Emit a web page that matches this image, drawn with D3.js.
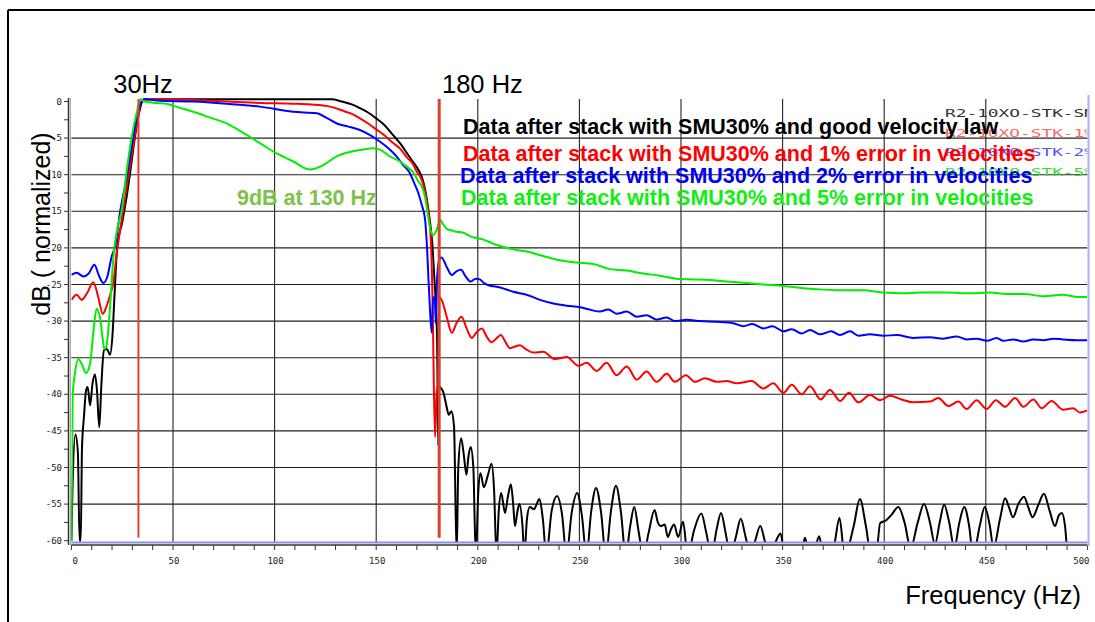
<!DOCTYPE html>
<html>
<head>
<meta charset="utf-8">
<script src="https://cdn.jsdelivr.net/npm/d3@7"></script>
<style>
  body { margin: 0; background: #fff; }
  svg { display: block; }
</style>
</head>
<body>
<script>
// frequency (Hz), amplitude (dB normalized)
var blackPts = [[0,-60],[0.6,-52],[2,-45.5],[3.2,-48],[4,-60],[4.6,-60],[5.2,-47.5],[6.2,-43],[7.2,-39.5],[8,-39],[9.2,-41.5],[10.4,-38.5],[11.6,-37.3],[12.6,-39.5],[13.7,-44.5],[14.7,-39],[16,-34],[17.5,-33.8],[19,-34.6],[20.2,-32],[21.3,-26],[22.5,-20],[25,-16.5],[27.2,-13],[29.5,-8.5],[31.3,-4.8],[33,-2],[34.6,-0.2],[36,0.3],[60,0.3],[100,0.3],[128,0.3],[133,0],[138,-0.4],[142,-0.9],[146,-1.5],[150,-2.3],[154,-3.2],[158,-4.5],[162,-5.8],[165,-7],[168,-8.2],[170,-9],[172,-10],[173.5,-11.3],[175,-13.5],[176.5,-16.5],[177.5,-19],[178.5,-23.5],[179.3,-27.5],[180,-33],[180.5,-47],[181,-39],[183,-39.7],[184.5,-41.5],[185.7,-42.8],[187,-42.3],[188.3,-44.4],[189.6,-62],[190.4,-50],[191.8,-46],[193,-48],[194.4,-51],[195.4,-48.5],[196.5,-47.2],[197.8,-50],[199,-62],[200.3,-53],[201.3,-50.8],[203,-52.7],[205,-51],[206.8,-49.5],[208,-53],[209.2,-62],[210.3,-56],[211.5,-53.5],[213.4,-56.2],[214.8,-54],[216.3,-52.3],[217.4,-55],[218.3,-58],[219.5,-56],[220.5,-55],[222,-58],[222.9,-62],[224.2,-57],[225.6,-55.4],[227.6,-55.7],[229,-55],[230.2,-54.3],[232,-57],[233.7,-62],[236.3,-56],[239,-53.9],[241.5,-56.5],[243.6,-62],[246.3,-56],[248.9,-53.5],[251.2,-56.5],[253.5,-62],[255.8,-56],[258.2,-52.8],[260.6,-56],[263,-62],[265.5,-56],[268,-52.5],[270.4,-56],[272.8,-62],[275,-58],[277,-55.4],[279,-58.5],[281.5,-62],[284,-59],[287,-55.8],[288.6,-57.5],[290,-58],[292,-57.8],[293.5,-59.5],[295,-58.5],[296.6,-57.8],[298.6,-59.5],[301,-57.4],[303.3,-62],[306.5,-58.5],[310,-56.3],[312.5,-59],[315,-62],[317.5,-58.5],[319.7,-56.2],[322,-59],[324.3,-62],[327,-59.5],[329.4,-57],[331.8,-59.5],[334.2,-62],[336.5,-60],[339,-58],[341.2,-60],[343,-62],[346,-60.5],[349,-59],[351,-62],[359,-62],[361,-59.6],[363,-62],[366,-61],[368,-59.4],[370,-62],[375,-61],[378,-56.9],[380.5,-62],[385,-58],[388,-54.3],[391,-58],[393.5,-62],[396,-62],[398,-57.6],[401,-57.2],[403.5,-56.5],[407,-55.4],[410,-57.5],[413,-61],[416.5,-57.5],[419.6,-55],[422.5,-57.5],[425,-60.5],[427.3,-57.5],[429.5,-55.1],[432,-57.5],[434.5,-61],[437,-57.5],[439.4,-55.4],[441.8,-58],[443.8,-62],[447,-58],[449.5,-55.4],[452,-58],[453.8,-61],[457,-57],[459.5,-54.2],[461.5,-55.5],[463.4,-56.8],[466,-55],[468.8,-54],[471,-55.5],[473,-56.8],[476,-55],[478.6,-53.6],[481.5,-56],[484,-58],[486,-56.5],[487.5,-56.2],[489,-58],[490.4,-62],[500,-62]];

var redPts = [[0,-27.1],[2.6,-26.4],[5,-27.1],[7.7,-26.2],[10.8,-24.7],[13.2,-26.7],[15.4,-29],[17.5,-27.8],[19.5,-26],[20.6,-24.8],[22.2,-21],[24,-17.5],[26.5,-13],[29,-8.5],[31,-5],[32.8,-2],[34.5,0],[36,0.3],[60,0.2],[93,-0.2],[109,-0.3],[118,-0.4],[125.6,-0.6],[130,-0.9],[134,-1.3],[138,-1.7],[142,-2.3],[146,-3],[150,-3.8],[154,-4.6],[158,-5.6],[162,-6.5],[165,-7.6],[168,-8.5],[170,-9.6],[172.4,-10.7],[174,-12.3],[174.8,-13.5],[176,-15.8],[176.8,-18.5],[177.3,-22],[177.8,-28],[178.4,-39.4],[179,-45.8],[179.7,-40],[180.4,-38.5],[181,-26.7],[182.2,-27.1],[184.7,-29.4],[187.2,-31.6],[189.5,-30.3],[192,-29.4],[194.5,-31],[197,-32.3],[199.5,-31.5],[202,-31],[204.5,-32.2],[206.8,-32.9],[209,-32.4],[211.3,-31.9],[213.5,-32.8],[215.8,-33.7],[218,-33.5],[220.7,-33.3],[224,-33.9],[227.3,-34.3],[232.2,-34.2],[238,-35.2],[243.8,-34.9],[249.5,-36.1],[253.6,-35.7],[258.5,-36.8],[263.4,-35.7],[268.3,-37.4],[273.3,-36.2],[278.2,-38],[283.1,-36.9],[288,-38.3],[293,-37.2],[297,-38.3],[302.4,-37.4],[306.9,-38.3],[311.8,-37.8],[317.6,-38.3],[322.5,-38.2],[327.4,-38.5],[334.8,-38.2],[340.5,-39.2],[345.4,-38.5],[350.4,-39.8],[354.5,-38.7],[359.4,-40],[363.5,-38.9],[368.7,-40.7],[373.3,-39.4],[378.3,-40.9],[382.7,-39.8],[387.3,-41.1],[393,-40.1],[398,-40.8],[402.8,-40.2],[408.6,-40.7],[414.3,-41.1],[422.5,-41],[426.6,-40.5],[431.6,-41.6],[436.5,-41],[440.6,-42],[445.5,-40.8],[450.4,-42],[455,-40.8],[459.5,-41.7],[464.4,-40.5],[468.5,-41.7],[473.4,-40.7],[477.5,-41.9],[482.4,-40.9],[488,-42.1],[493,-41.9],[496.3,-42.5],[500,-42.2]];

var bluePts = [[0,-23.7],[2.6,-23.4],[5.9,-23.9],[8.5,-23.5],[11.3,-22.3],[13.7,-23.9],[15.7,-24.8],[17.7,-23.9],[19.8,-21.2],[21.5,-19.8],[24,-15],[27,-10.7],[29.5,-6.5],[32,-2.5],[34,-0.3],[36,0.3],[43.5,0.1],[60,0],[76.4,-0.3],[92.8,-0.7],[109,-1.4],[120.7,-1.6],[126,-2.3],[130.6,-3],[136,-3.4],[142,-3.9],[147,-4.6],[151.9,-5.5],[156,-6.4],[160,-7.5],[163,-8.6],[166.6,-9.8],[168.5,-11],[170.7,-12.5],[172.5,-14.2],[174,-16],[174.8,-18.9],[176,-25.8],[177.3,-31.6],[178,-26.7],[178.8,-27],[179.4,-30.3],[180,-23.9],[181,-21.7],[182.2,-21.3],[184.7,-22.6],[187.2,-23.7],[189.5,-23.2],[191.7,-23],[194,-23.9],[196.5,-24.6],[199,-24.2],[201,-24.3],[203,-24.8],[205.2,-25.1],[211,-25.4],[217.5,-26],[224,-26.4],[230.6,-27.1],[237.2,-27.6],[243.8,-27.9],[250.3,-28.1],[256,-28.5],[260,-28.7],[264.2,-28.4],[268.3,-29],[273.3,-28.7],[278.2,-29.4],[283.1,-29.2],[288,-29.8],[293,-29.5],[297,-30],[302.8,-29.8],[309.3,-30],[317.6,-30.1],[325.7,-30.3],[330.7,-30.7],[335,-30.4],[340.5,-31],[345,-30.7],[350.4,-31.4],[354.5,-31.1],[359.4,-31.7],[363.5,-31.2],[368.4,-31.8],[374,-31.4],[378.2,-31.9],[383.2,-31.4],[387.3,-32],[393,-31.8],[399.6,-32],[406.2,-31.9],[414.3,-32.3],[422.5,-32.2],[429,-32.4],[435.7,-32.1],[440.6,-32.5],[445.5,-32.4],[450.7,-32.7],[455.3,-32.3],[458.6,-32.7],[463.5,-32.5],[468.5,-32.8],[473.4,-32.5],[478.3,-32.6],[483.2,-32.4],[488,-32.5],[494.6,-32.6],[500,-32.6]];

var greenPts = [[0,-60],[0.6,-40.3],[1.8,-37],[3.4,-35.2],[5,-35.8],[7.2,-37.1],[9.2,-35.8],[11,-31],[12.4,-28.3],[14,-29.4],[15.2,-32],[16.2,-33.8],[17.2,-33.5],[18.2,-31],[19.8,-24.8],[20.6,-21.5],[22.5,-17.5],[24.8,-14.8],[27.2,-9.5],[29.7,-4.8],[32.1,-1.6],[34,0.3],[36,0],[42,-0.2],[46.9,-0.3],[50.2,-0.6],[55,-1],[60,-1.4],[68.2,-2.2],[76.4,-3],[84.6,-4.3],[92.8,-5.7],[101,-7.1],[109.2,-8.2],[117.4,-9.3],[123.9,-8.7],[130.5,-7.5],[137,-6.9],[143,-6.6],[148.6,-6.4],[152,-6.6],[156.7,-7.5],[161.7,-8.2],[165,-8.9],[168.3,-9.7],[170.5,-10.8],[172.4,-11.6],[174,-13],[174.8,-14.3],[176.4,-17.1],[177.8,-18.3],[179.7,-17.6],[181.4,-16.2],[183,-16.8],[184.7,-17.4],[187,-17.6],[189.6,-17.8],[192.5,-17.9],[197,-18.5],[202,-18.8],[209.3,-19.6],[217.5,-20.2],[224,-20.5],[232.2,-21.1],[240.4,-21.7],[248.7,-22],[256.8,-22.2],[265,-22.9],[273.2,-23.1],[281.4,-23.5],[289.6,-23.8],[297.8,-24.2],[306,-24.3],[314.2,-24.4],[322.5,-24.6],[332.3,-24.8],[340.5,-25],[350.4,-25.2],[360.2,-25.5],[370,-25.7],[379.9,-25.8],[389.7,-25.8],[399.6,-26.1],[407.8,-26.2],[419.2,-26.1],[430.7,-26.1],[442.2,-26.2],[452,-26.1],[460.3,-26.3],[468.5,-26.3],[478.3,-26.6],[488,-26.4],[494.6,-26.7],[500,-26.7]];

var seriesNames = ["R2-10XO-STK-SM", "R2-10XO-STK-1%", "R2-10XO-STK-2%", "R2-10XO-STK-5%"];
var legendLabels = [
    "Data after stack with SMU30% and good velocity law",
    "Data after stack with SMU30% and 1% error in velocities",
    "Data after stack with SMU30% and 2% error in velocities",
    "Data after stack with SMU30% and 5% error in velocities"
];
var markerFreqs = [33, 181];
var xTicks = [0, 50, 100, 150, 200, 250, 300, 350, 400, 450, 500];
var yTicks = [0, -5, -10, -15, -20, -25, -30, -35, -40, -45, -50, -55, -60];

var W = 1095, H = 622;
var svg = d3.select("body").append("svg").attr("width", W).attr("height", H);

var x = d3.scaleLinear().domain([0, 500]).range([71.4, 1087.4]);
var y = d3.scaleLinear().domain([0, -60]).range([101.5, 540.7]);

// slide frame
svg.append("line").attr("x1", 8).attr("y1", 10).attr("x2", W).attr("y2", 10)
    .attr("stroke", "#000").attr("stroke-width", 2);
svg.append("line").attr("x1", 8).attr("y1", 10).attr("x2", 8).attr("y2", H)
    .attr("stroke", "#000").attr("stroke-width", 2);

// grid
svg.append("g").selectAll("line").data(yTicks.filter(function (d) { return d < 0 && d > -60; }))
    .enter().append("line")
    .attr("x1", x(0)).attr("x2", x(500))
    .attr("y1", function (d) { return y(d); }).attr("y2", function (d) { return y(d); })
    .attr("stroke", "#222").attr("stroke-width", 1.1);
svg.append("g").selectAll("line").data(xTicks.filter(function (d) { return d > 0 && d < 500; }))
    .enter().append("line")
    .attr("x1", function (d) { return x(d); }).attr("x2", function (d) { return x(d); })
    .attr("y1", 99).attr("y2", 543)
    .attr("stroke", "#222").attr("stroke-width", 1.1);

svg.append("defs").append("clipPath").attr("id", "plotclip")
    .append("rect").attr("x", x(0)).attr("y", 96).attr("width", x(500) - x(0)).attr("height", 446);

// small series labels behind the legend
var nameColors = ["#333", "#ff6666", "#5555ff", "#33dd33"];
svg.append("g").attr("clip-path", "url(#plotclip)")
    .selectAll("text").data(seriesNames).enter().append("text")
    .attr("x", 945).attr("y", function (d, i) { return 117 + i * 19.5; })
    .attr("font-family", "DejaVu Sans Mono").attr("font-size", 11)
    .attr("textLength", 150).attr("lengthAdjust", "spacingAndGlyphs")
    .attr("fill", function (d, i) { return nameColors[i]; })
    .text(function (d) { return d; });

// curves
var line = d3.line()
    .x(function (d) { return x(d[0]); })
    .y(function (d) { return y(d[1]); })
    .curve(d3.curveMonotoneX);

var curves = [blackPts, redPts, bluePts, greenPts];
var curveColors = ["#000", "#ff0000", "#0000ff", "#00ee00"];
svg.append("g").attr("clip-path", "url(#plotclip)")
    .selectAll("path").data(curves).enter().append("path")
    .attr("d", line)
    .attr("fill", "none")
    .attr("stroke", function (d, i) { return curveColors[i]; })
    .attr("stroke-width", 2)
    .attr("stroke-linejoin", "round");

// cut-off markers
svg.append("g").selectAll("line").data(markerFreqs).enter().append("line")
    .attr("x1", function (d) { return x(d); }).attr("x2", function (d) { return x(d); })
    .attr("y1", 99).attr("y2", y(-59.6))
    .attr("stroke", "#d9432e")
    .attr("stroke-width", function (d, i) { return i == 0 ? 2 : 3; });

// y axis
svg.append("line").attr("x1", 68.5).attr("x2", 68.5).attr("y1", 98).attr("y2", 545)
    .attr("stroke", "#333").attr("stroke-width", 1.5);
svg.append("line").attr("x1", 70.5).attr("x2", 70.5).attr("y1", 98).attr("y2", 545)
    .attr("stroke", "#aaa").attr("stroke-width", 1);
svg.append("g").selectAll("line").data(d3.range(0, -60.1, -2.5)).enter().append("line")
    .attr("x1", 64).attr("x2", 68)
    .attr("y1", function (d) { return y(d); }).attr("y2", function (d) { return y(d); })
    .attr("stroke", "#333").attr("stroke-width", 1);
svg.append("g").selectAll("text").data(yTicks).enter().append("text")
    .attr("x", 62).attr("y", function (d) { return y(d) + 3; })
    .attr("text-anchor", "end")
    .attr("font-family", "DejaVu Sans Mono").attr("font-size", 9)
    .attr("fill", "#222")
    .text(function (d) { return d; });

// x axis
svg.append("line").attr("x1", x(0)).attr("x2", x(500)).attr("y1", 542.5).attr("y2", 542.5)
    .attr("stroke", "#8f8fe6").attr("stroke-width", 2);
svg.append("line").attr("x1", x(0)).attr("x2", x(500)).attr("y1", 545).attr("y2", 545)
    .attr("stroke", "#333").attr("stroke-width", 1.5);
svg.append("g").selectAll("line").data(d3.range(0, 501, 10)).enter().append("line")
    .attr("x1", function (d) { return x(d); }).attr("x2", function (d) { return x(d); })
    .attr("y1", 545).attr("y2", 550)
    .attr("stroke", "#333").attr("stroke-width", 1);
svg.append("g").selectAll("text").data(xTicks).enter().append("text")
    .attr("x", function (d) { return d == 500 ? x(d) - 6 : x(d) + 1; })
    .attr("y", 564)
    .attr("text-anchor", function (d) { return d == 0 ? "start" : "middle"; })
    .attr("font-family", "DejaVu Sans Mono").attr("font-size", 9)
    .attr("fill", "#222")
    .text(function (d) { return d; });

// right border of plot
svg.append("line").attr("x1", 1088.5).attr("x2", 1088.5).attr("y1", 95).attr("y2", 546)
    .attr("stroke", "#a8aef0").attr("stroke-width", 2);

// legend
var legendColors = ["#000", "#ff0000", "#0000ee", "#11ee11"];
var legendY = [134, 161, 183, 205];
var legendX = [463, 463, 460, 461];
svg.append("g").selectAll("text").data(legendLabels).enter().append("text")
    .attr("x", function (d, i) { return legendX[i]; })
    .attr("y", function (d, i) { return legendY[i]; })
    .attr("font-family", "Liberation Sans, Arial, sans-serif")
    .attr("font-weight", "bold").attr("font-size", 21.5)
    .attr("fill", function (d, i) { return legendColors[i]; })
    .text(function (d) { return d; });

// annotations
var font = "Liberation Sans, Arial, sans-serif";
svg.append("text").attr("x", 143).attr("y", 93).attr("text-anchor", "middle")
    .attr("font-family", font).attr("font-size", 25.5).text("30Hz");
svg.append("text").attr("x", 442).attr("y", 93)
    .attr("font-family", font).attr("font-size", 25.5).text("180 Hz");
svg.append("text").attr("x", 237).attr("y", 205)
    .attr("font-family", font).attr("font-size", 21.5).attr("font-weight", "bold")
    .attr("fill", "#7dc24b").text("9dB at 130 Hz");
svg.append("text").attr("transform", "translate(50,224) rotate(-90)")
    .attr("text-anchor", "middle")
    .attr("font-family", font).attr("font-size", 25).text("dB ( normalized)");
svg.append("text").attr("x", 1081).attr("y", 604).attr("text-anchor", "end")
    .attr("font-family", font).attr("font-size", 25.5).text("Frequency (Hz)");
</script>
</body>
</html>
